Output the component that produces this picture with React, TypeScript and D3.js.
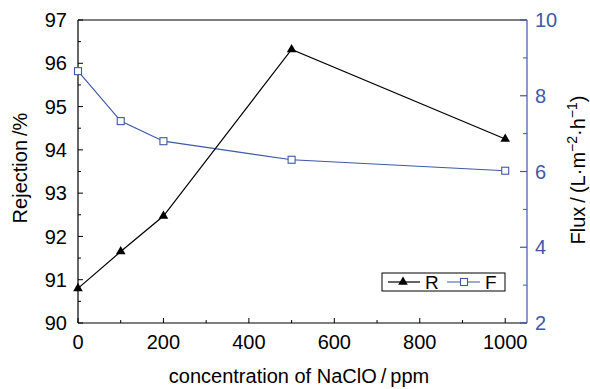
import * as d3 from 'd3';

const concentration = [0, 100, 200, 500, 1000];
const rejection = [90.8, 91.65, 92.47, 96.32, 94.25];
const flux = [8.65, 7.33, 6.8, 6.31, 6.02];

const xTicks = [0, 200, 400, 600, 800, 1000];
const xMinor = [100, 300, 500, 700, 900];
const leftTicks = [90, 91, 92, 93, 94, 95, 96, 97];
const leftMinor = [90.5, 91.5, 92.5, 93.5, 94.5, 95.5, 96.5];
const rightTicks = [2, 4, 6, 8, 10];
const rightMinor = [3, 5, 7, 9];

const W = 590;
const H = 389;
const BLUE = '#3d59a8';
const FONT = '"Liberation Sans", Arial, sans-serif';

export default function App() {
    const left = 78, right = 527, top = 20, bottom = 323;
    const x = d3.scaleLinear().domain([0, 1051]).range([left, right]);
    const yL = d3.scaleLinear().domain([90, 97]).range([bottom, top]);
    const yR = d3.scaleLinear().domain([2, 10]).range([bottom, top]);

    const lineR = d3.line<number>()
        .x((_, i) => x(concentration[i]))
        .y(d => yL(d));
    const lineF = d3.line<number>()
        .x((_, i) => x(concentration[i]))
        .y(d => yR(d));

    const tri = d3.symbol().type(d3.symbolTriangle).size(40)() || '';

    return (
        <svg width={W} height={H} style={{ position: 'absolute', left: 0, top: 0, background: '#fff' }}
            fontFamily={FONT}>
            {/* frame */}
            <line x1={left} x2={right} y1={top} y2={top} stroke="#000" strokeWidth={1.2} />
            <line x1={left} x2={right} y1={bottom} y2={bottom} stroke="#000" strokeWidth={1.2} />
            <line x1={left} x2={left} y1={top} y2={bottom} stroke="#000" strokeWidth={1.2} />

            {/* left axis */}
            {leftTicks.map(t => (
                <g key={'l' + t}>
                    <line x1={left} x2={left + 5} y1={yL(t)} y2={yL(t)} stroke="#000" />
                    <text x={left - 11} y={yL(t)} dy="0.36em" textAnchor="end" fontSize={20}>{t}</text>
                </g>
            ))}
            {leftMinor.map(t => (
                <line key={'lm' + t} x1={left} x2={left + 3} y1={yL(t)} y2={yL(t)} stroke="#000" />
            ))}

            {/* x axis */}
            {xTicks.map(t => (
                <g key={'x' + t}>
                    <line x1={x(t)} x2={x(t)} y1={bottom} y2={bottom - 5} stroke="#000" />
                    <text x={x(t)} y={349} textAnchor="middle" fontSize={20}>{t}</text>
                </g>
            ))}
            {xMinor.map(t => (
                <line key={'xm' + t} x1={x(t)} x2={x(t)} y1={bottom} y2={bottom - 3} stroke="#000" />
            ))}

            {/* right axis */}
            <line x1={right} x2={right} y1={top} y2={bottom} stroke={BLUE} strokeWidth={1.2} />
            {rightTicks.map(t => (
                <g key={'r' + t}>
                    <line x1={right - 7} x2={right} y1={yR(t)} y2={yR(t)} stroke={BLUE} strokeWidth={1.2} />
                    <text x={right + 8} y={yR(t)} dy="0.36em" fontSize={20} fill={BLUE}>{t}</text>
                </g>
            ))}
            {rightMinor.map(t => (
                <line key={'rm' + t} x1={right - 4} x2={right} y1={yR(t)} y2={yR(t)} stroke={BLUE} />
            ))}

            {/* series */}
            <path d={lineF(flux) || ''} fill="none" stroke={BLUE} strokeWidth={1.2} />
            {flux.map((v, i) => (
                <rect key={'f' + i} x={x(concentration[i]) - 3.5} y={yR(v) - 3.5} width={7} height={7}
                    fill="#fff" stroke={BLUE} strokeWidth={1.1} />
            ))}
            <path d={lineR(rejection) || ''} fill="none" stroke="#000" strokeWidth={1.2} />
            {rejection.map((v, i) => (
                <path key={'r' + i} d={tri} transform={`translate(${x(concentration[i])},${yL(v)})`} fill="#000" />
            ))}

            {/* legend */}
            <rect x={382} y={273} width={123} height={18} fill="#fff" stroke="#000" strokeWidth={1} />
            <line x1={388} x2={420} y1={282} y2={282} stroke="#000" strokeWidth={1.2} />
            <path d={tri} transform="translate(403,282)" fill="#000" />
            <text x={425} y={282} dy="0.36em" fontSize={19}>R</text>
            <line x1={447} x2={480} y1={282} y2={282} stroke={BLUE} strokeWidth={1.2} />
            <rect x={460.5} y={278.5} width={7} height={7} fill="#fff" stroke={BLUE} strokeWidth={1.1} />
            <text x={485} y={282} dy="0.36em" fontSize={19}>F</text>

            {/* titles */}
            <text x={299} y={383} textAnchor="middle" fontSize={20}>concentration of NaClO{'\u2009/\u2009'}ppm</text>
            <text transform="translate(27,168) rotate(-90)" textAnchor="middle" fontSize={20}>Rejection{'\u2009/'}%</text>
            <text transform="translate(585,170) rotate(-90)" textAnchor="middle" fontSize={20}>
                Flux{'\u2009/\u2009'}(L·m<tspan dy={-8} fontSize={14}>−2</tspan><tspan dy={8}>·h</tspan><tspan dy={-8} fontSize={14}>−1</tspan><tspan dy={8}>)</tspan>
            </text>
        </svg>
    );
}
